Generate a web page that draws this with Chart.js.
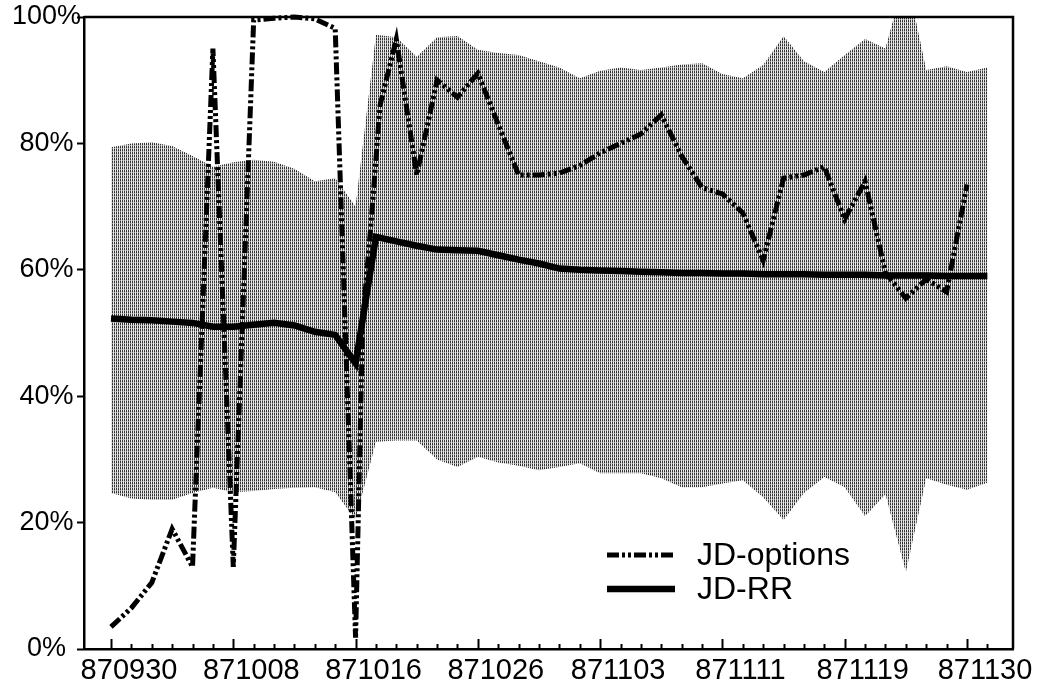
<!DOCTYPE html>
<html><head><meta charset="utf-8">
<script src="https://cdn.jsdelivr.net/npm/chart.js@4.4.0/dist/chart.umd.min.js"></script>
<style>html,body{margin:0;padding:0;background:#fff}#wrap{width:1041px;height:684px;position:relative}</style>
</head><body><div id="wrap"><canvas id="c"></canvas></div>
<script>
// x positions are trading-day indices, 870930 = 0 ... 871201 = 43
const tickDays = [0, 6, 12, 18, 24, 30, 36, 42];
const tickLabels = ['870930', '871008', '871016', '871026', '871103', '871111', '871119', '871130'];
const seriesNames = ['JD-options', 'JD-RR'];

// shaded band (upper / lower bounds), one value per trading day
const bandUpper = [79.4, 80, 80.2, 79.6, 78, 76.3, 77, 77.4, 77.1, 76, 74, 74.5, 70, 97.2, 96.8, 93.7, 96.8, 97, 94.8, 94.3, 94, 93, 92, 90.3, 91.5, 92, 91.6, 92, 92.5, 92.7, 91, 90.3, 92.4, 97, 93, 91.3, 94, 96.5, 95, 107, 91.6, 92.2, 91.3, 92];
const bandLower = [24.7, 23.8, 23.6, 23.6, 24.7, 25.5, 24.8, 25, 25.3, 25.5, 25.6, 24.8, 20.5, 32.8, 33, 33, 30, 28.8, 30.4, 29.5, 29, 28.3, 28.8, 29.4, 27.8, 27.8, 27.8, 27, 25.6, 25.6, 26.2, 26.7, 24, 20.4, 24.7, 27.2, 25.6, 21, 24.5, 12.2, 27, 26, 25.2, 26.3];

// JD-RR, one value per trading day
const rrValues = [52.3, 52.1, 52, 51.8, 51.6, 51, 51, 51.3, 51.6, 51.2, 50.2, 49.7, 45.2, 65.2, 64.5, 63.8, 63.2, 63.1, 63, 62.3, 61.6, 61, 60.2, 60, 59.9, 59.8, 59.7, 59.6, 59.5, 59.5, 59.4, 59.4, 59.3, 59.3, 59.3, 59.2, 59.2, 59.2, 59.1, 59.1, 59.1, 59, 59, 59];

// JD-options
const optDays = [0, 1, 2, 3, 4, 5, 6, 7, 8, 9, 10, 11, 12, 12.35, 12.75, 13.2, 14, 15, 16, 17, 18, 19, 20, 21, 22, 23, 24, 25, 26, 27, 28, 29, 30, 31, 32, 33, 34, 35, 36, 37, 38, 39, 40, 41, 42];
const optValues = [3.5, 6.5, 10.5, 19, 13, 95, 13, 99.5, 99.8, 100, 99.7, 98.2, 1.8, 52, 67, 86, 96.5, 75, 90, 87.3, 91.1, 83, 75, 75, 75.3, 76.5, 78.5, 80, 81.5, 84.5, 78, 73, 72, 69, 61.5, 74.5, 75, 76.3, 68, 74, 59.5, 55.5, 58.5, 56.5, 73.5];

const dayIndex = bandUpper.map((_, i) => i);
const toPoints = (xs, ys) => ys.map((y, i) => ({ x: xs[i], y }));

const FONT = '"Liberation Sans", Arial, Helvetica, sans-serif';
const optDash = [12, 3, 3, 3, 3, 3];

const canvas = document.getElementById('c');
function makePattern() {
  const c = document.createElement('canvas');
  c.width = 2; c.height = 3;
  const g = c.getContext('2d');
  g.fillStyle = '#e2e2e2'; g.fillRect(0, 0, 2, 3);
  g.fillStyle = '#333333'; g.fillRect(0, 0, 1, 3);
  g.fillStyle = '#9a9a9a'; g.fillRect(0, 1, 1, 1);
  g.fillStyle = '#f4f4f4'; g.fillRect(1, 2, 1, 1);
  return canvas.getContext('2d').createPattern(c, 'repeat');
}
const bandPattern = makePattern();

const decor = {
  id: 'decor',
  afterDraw(chart) {
    const { ctx, chartArea: a, scales } = chart;
    const xs = scales.x;
    ctx.save();
    ctx.strokeStyle = '#000';
    ctx.lineWidth = 2.5;
    ctx.beginPath();
    ctx.moveTo(a.left, a.top); ctx.lineTo(a.right, a.top); ctx.lineTo(a.right, a.bottom);
    ctx.stroke();
    // x ticks pointing inward
    ctx.lineWidth = 2;
    dayIndex.forEach(d => {
      const px = Math.round(xs.getPixelForValue(d)) + 0.5;
      const len = tickDays.includes(d) ? 10 : 5;
      ctx.beginPath(); ctx.moveTo(px, a.bottom); ctx.lineTo(px, a.bottom - len); ctx.stroke();
    });
    // legend
    const lx0 = 607, lx1 = 675, tx = 697, y1 = 555, y2 = 589;
    ctx.lineWidth = 5; ctx.setLineDash(optDash);
    ctx.beginPath(); ctx.moveTo(lx0, y1); ctx.lineTo(lx1, y1); ctx.stroke();
    ctx.setLineDash([]); ctx.lineWidth = 6.5;
    ctx.beginPath(); ctx.moveTo(lx0, y2); ctx.lineTo(lx1, y2); ctx.stroke();
    ctx.fillStyle = '#000';
    ctx.font = '32px ' + FONT;
    ctx.textBaseline = 'middle'; ctx.textAlign = 'left';
    ctx.fillText(seriesNames[0], tx, y1 + 1);
    ctx.fillText(seriesNames[1], tx, y2 + 1);
    ctx.restore();
  }
};

new Chart(canvas, {
  type: 'line',
  data: {
    datasets: [
      { label: seriesNames[0], data: toPoints(optDays, optValues), borderColor: '#000', borderWidth: 5, borderDash: optDash, pointRadius: 0, fill: false, order: 0, clip: 5, tension: 0 },
      { label: seriesNames[1], data: toPoints(dayIndex, rrValues), borderColor: '#000', borderWidth: 6.5, pointRadius: 0, fill: false, order: 1, clip: 5 },
      { label: 'upper', data: toPoints(dayIndex, bandUpper), borderWidth: 0, borderColor: 'rgba(0,0,0,0)', backgroundColor: bandPattern, fill: '+1', pointRadius: 0, order: 2 },
      { label: 'lower', data: toPoints(dayIndex, bandLower), borderWidth: 0, borderColor: 'rgba(0,0,0,0)', pointRadius: 0, fill: false, order: 3 }
    ]
  },
  options: {
    responsive: true, maintainAspectRatio: false, animation: false,
    layout: { padding: { top: 17, right: 28, left: 0, bottom: 0 } },
    plugins: { legend: { display: false }, tooltip: { enabled: false } },
    scales: {
      x: {
        type: 'linear', min: -1.325, max: 44.257,
        afterBuildTicks: s => { s.ticks = tickDays.map(v => ({ value: v })); },
        afterFit: s => { s.height = 35; },
        grid: { drawOnChartArea: false, drawTicks: false },
        border: { display: true, color: '#000', width: 2.5 },
        ticks: { autoSkip: false, maxRotation: 0, padding: 5, labelOffset: 18, color: '#000', font: { family: FONT, size: 29 },
          callback: v => tickLabels[tickDays.indexOf(v)] }
      },
      y: {
        min: 0, max: 100,
        afterFit: s => { s.width = 84; },
        grid: { drawOnChartArea: false, drawTicks: true, tickLength: 7, tickColor: '#000', tickWidth: 2 },
        border: { display: true, color: '#000', width: 2.5 },
        ticks: { stepSize: 20, crossAlign: 'center', padding: -4, color: '#000', font: { family: FONT, size: 27 },
          callback: v => v + '%' }
      }
    }
  },
  plugins: [decor]
});
</script></body></html>
